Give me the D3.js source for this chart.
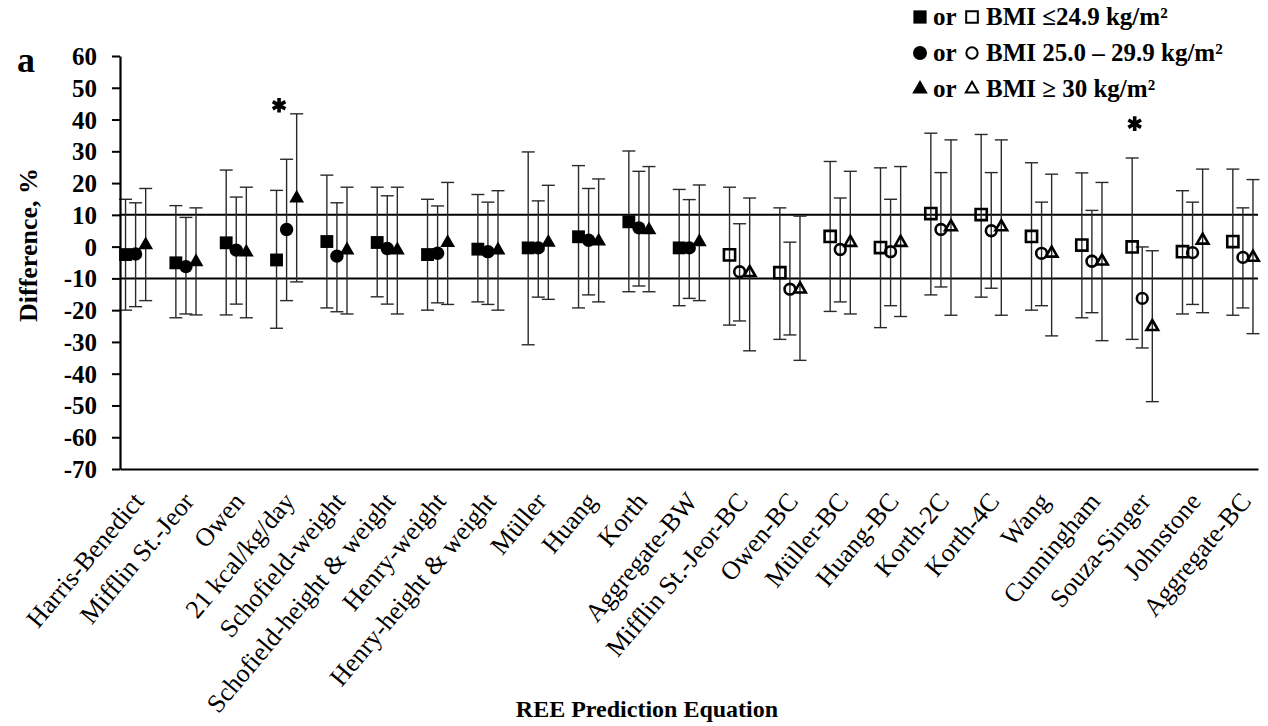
<!DOCTYPE html>
<html><head><meta charset="utf-8">
<script src="https://cdn.jsdelivr.net/npm/d3@7"></script>
<style>
body{margin:0;background:#fff}
svg{display:block}
text{font-family:"Liberation Serif","Times New Roman",serif;fill:#000}
</style>
</head><body>
<svg id="c" width="1268" height="726"></svg>
<script>
// ---------- DATA ----------
const categories = ["Harris-Benedict","Mifflin St.-Jeor","Owen","21 kcal/kg/day","Schofield-weight",
  "Schofield-height & weight","Henry-weight","Henry-height & weight","Müller","Huang","Korth",
  "Aggregate-BW","Mifflin St.-Jeor-BC","Owen-BC","Müller-BC","Huang-BC","Korth-2C","Korth-4C",
  "Wang","Cunningham","Souza-Singer","Johnstone","Aggregate-BC"];
// BW = body-weight equations (filled markers), BC = body-composition equations (open markers)
const equationType = ["BW","BW","BW","BW","BW","BW","BW","BW","BW","BW","BW","BW",
  "BC","BC","BC","BC","BC","BC","BC","BC","BC","BC","BC"];

// BMI <= 24.9
const normalMean  = [-2.5,-5.1,1.2,-4.2,1.6,1.3,-2.5,-0.8,-0.4,3.1,7.8,-0.4,-2.6,-8.2,3.2,-0.3,10.4,10.1,3.2,0.5,-0.1,-1.6,1.6];
const normalUpper = [14.9,12.9,24.1,17.7,22.5,18.7,14.9,16.4,29.8,25.5,30.1,18.0,18.7,12.2,26.8,24.8,35.7,35.3,26.4,23.2,27.9,17.6,24.4];
const normalLower = [-20.0,-22.4,-21.5,-25.7,-19.3,-15.8,-20.0,-17.4,-30.9,-19.3,-14.2,-18.6,-24.7,-29.2,-20.4,-25.5,-15.2,-15.9,-20.0,-22.4,-29.2,-21.2,-21.6];
// BMI 25.0 - 29.9
const overMean  = [-2.3,-6.3,-1.1,5.4,-3.0,-0.6,-2.1,-1.6,-0.4,2.0,5.9,-0.4,-7.9,-13.4,-0.9,-1.6,5.4,5.0,-2.1,-4.6,-16.3,-1.9,-3.4];
const overUpper = [13.8,9.2,15.6,27.5,13.8,16.0,12.8,14.0,14.4,18.3,23.7,14.8,7.2,1.4,15.3,14.9,23.3,23.3,14.0,11.4,-0.1,14.0,12.2];
const overLower = [-18.9,-21.2,-18.1,-17.0,-20.5,-18.1,-17.7,-18.2,-15.9,-15.2,-12.4,-16.3,-23.4,-27.8,-17.4,-18.6,-12.7,-13.1,-18.6,-20.8,-31.9,-18.2,-19.3];
// BMI >= 30
const obeseMean  = [0.5,-4.8,-1.8,15.2,-1.1,-1.1,1.2,-1.1,1.3,1.7,5.2,1.5,-8.2,-13.4,1.3,1.3,6.2,6.2,-2.1,-4.6,-25.2,2.0,-3.4];
const obeseUpper = [18.3,12.2,18.7,41.8,18.7,18.7,20.2,17.6,19.3,21.3,25.2,19.4,15.3,9.6,23.7,25.2,33.6,33.6,22.8,20.2,-1.3,24.4,21.1];
const obeseLower = [-17.0,-21.5,-22.4,-11.1,-21.2,-21.2,-18.2,-20.0,-16.6,-17.4,-14.2,-17.0,-32.8,-35.8,-21.2,-22.0,-21.6,-21.6,-28.1,-29.6,-48.8,-20.8,-27.4];

const seriesNames = ["BMI \u226424.9 kg/m\u00B2","BMI 25.0 \u2013 29.9 kg/m\u00B2","BMI \u2265 30 kg/m\u00B2"];
const asteriskCategories = ["21 kcal/kg/day","Souza-Singer"];
const asteriskValues = [44.5, 38.7];
const referenceLines = [10, -10];
const yTicks = [60,50,40,30,20,10,0,-10,-20,-30,-40,-50,-60,-70];

// ---------- CHART ----------
const svg = d3.select("#c");
const x = d3.scaleLinear().domain([-0.31, categories.length - 0.7]).range([120, 1258]);
const y = d3.scaleLinear().domain([-70, 60]).range([469, 56]);

const series = [
  {mean: normalMean, hi: normalUpper, lo: normalLower, shape: d3.symbolSquare, fillSize: 165, openSize: 125, offset: -0.2},
  {mean: overMean,   hi: overUpper,   lo: overLower,   shape: d3.symbolCircle, fillSize: 140, openSize: 90,  offset: 0},
  {mean: obeseMean,  hi: obeseUpper,  lo: obeseLower,  shape: d3.symbolTriangle, fillSize: 95, openSize: 58, offset: 0.2}
];

// reference lines
svg.append("g").selectAll("line").data(referenceLines).join("line")
  .attr("x1", x.range()[0]).attr("x2", x.range()[1])
  .attr("y1", d => y(d)).attr("y2", d => y(d))
  .attr("stroke", "#000").attr("stroke-width", 2);

// error bars
const capW = 6.5;
series.forEach(s => {
  const g = svg.append("g").attr("stroke", "#2a2a2a").attr("stroke-width", 1.4);
  categories.forEach((c, i) => {
    const cx = x(i + s.offset);
    g.append("line").attr("x1", cx).attr("x2", cx).attr("y1", y(s.hi[i])).attr("y2", y(s.lo[i]));
    g.append("line").attr("x1", cx - capW).attr("x2", cx + capW).attr("y1", y(s.hi[i])).attr("y2", y(s.hi[i]));
    g.append("line").attr("x1", cx - capW).attr("x2", cx + capW).attr("y1", y(s.lo[i])).attr("y2", y(s.lo[i]));
  });
});

// markers
series.forEach(s => {
  svg.append("g").selectAll("path").data(categories).join("path")
    .attr("transform", (c, i) => `translate(${x(i + s.offset)},${y(s.mean[i])})`)
    .attr("d", (c, i) => d3.symbol().type(s.shape).size(equationType[i] === "BW" ? s.fillSize : s.openSize)())
    .attr("fill", (c, i) => equationType[i] === "BW" ? "#000" : "none")
    .attr("stroke", "#000")
    .attr("stroke-width", (c, i) => equationType[i] === "BW" ? 0 : 2.6);
});

// asterisks
svg.append("g").selectAll("path").data(asteriskCategories).join("path")
  .attr("transform", (c, k) => `translate(${x(categories.indexOf(c) - 0.15)},${y(asteriskValues[k])})`)
  .attr("d", d3.symbol().type(d3.symbolAsterisk).size(150)())
  .attr("stroke", "#000").attr("stroke-width", 3.6).attr("fill", "none");

// y axis
const yAxis = svg.append("g").attr("transform", `translate(${x.range()[0]},0)`)
  .call(d3.axisLeft(y).tickValues(yTicks).tickSize(8).tickSizeOuter(0).tickPadding(15)
    .tickFormat(d => d < 0 ? "-" + Math.abs(d) : String(d)));
yAxis.select(".domain").attr("stroke", "#000").attr("stroke-width", 2.2);
yAxis.selectAll(".tick line").attr("stroke", "#000").attr("stroke-width", 2);
yAxis.selectAll(".tick text").style("font-family", '"Liberation Serif",serif')
  .style("font-size", "25px").style("font-weight", "bold").attr("dy", "0.34em");

// x axis
const xAxis = svg.append("g").attr("transform", `translate(0,${y(-70)})`)
  .call(d3.axisBottom(x).tickValues(d3.range(categories.length)).tickSize(0).tickSizeOuter(0)
    .tickFormat(i => categories[i]));
xAxis.select(".domain").attr("stroke", "#000").attr("stroke-width", 2.2);
xAxis.selectAll(".tick text").style("font-family", '"Liberation Serif",serif')
  .style("font-size", "26px").attr("text-anchor", "end")
  .attr("x", 0).attr("y", 0).attr("dy", 0)
  .attr("transform", "translate(9,33) rotate(-50)");

// axis titles
svg.append("text").attr("x", 647).attr("y", 717).attr("text-anchor", "middle")
  .style("font-size", "24px").style("font-weight", "bold").text("REE Prediction Equation");
svg.append("text").attr("transform", "translate(37,245) rotate(-90)").attr("text-anchor", "middle")
  .style("font-size", "26px").style("font-weight", "bold").text("Difference, %");
svg.append("text").attr("x", 17).attr("y", 72)
  .style("font-size", "36px").style("font-weight", "bold").text("a");

// legend
const legendShapes = [d3.symbolSquare, d3.symbolCircle, d3.symbolTriangle];
const legendFill = [175, 155, 105], legendOpen = [135, 100, 66];
const lg = svg.append("g");
seriesNames.forEach((name, k) => {
  const by = 25 + k * 36;
  lg.append("path").attr("transform", `translate(920,${by - 8})`)
    .attr("d", d3.symbol().type(legendShapes[k]).size(legendFill[k])()).attr("fill", "#000");
  lg.append("text").attr("x", 933).attr("y", by).style("font-size", "25px").style("font-weight", "bold").text("or");
  lg.append("path").attr("transform", `translate(972,${by - 8})`)
    .attr("d", d3.symbol().type(legendShapes[k]).size(legendOpen[k])())
    .attr("fill", "none").attr("stroke", "#000").attr("stroke-width", 2);
  lg.append("text").attr("x", 986).attr("y", by).style("font-size", "25px").style("font-weight", "bold").text(name);
});
</script>
</body></html>
